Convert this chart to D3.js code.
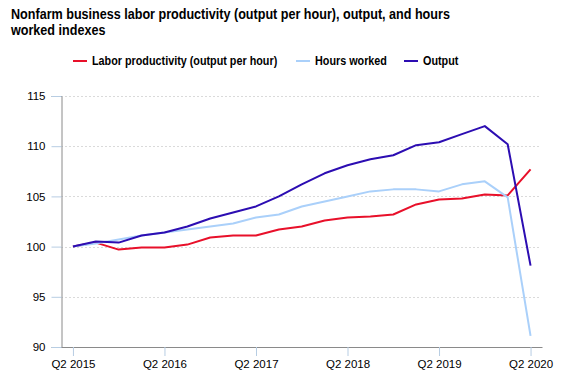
<!DOCTYPE html>
<html>
<head>
<meta charset="utf-8">
<script src="https://cdn.jsdelivr.net/npm/d3@7"></script>
<style>
  body { margin: 0; background: #fff; }
  text { font-family: "Liberation Sans", Arial, sans-serif; }
</style>
</head>
<body>
<div id="root"></div>
<script>
// Data
const quarters = [
  'Q2 2015', 'Q3 2015', 'Q4 2015', 'Q1 2016', 'Q2 2016', 'Q3 2016', 'Q4 2016',
  'Q1 2017', 'Q2 2017', 'Q3 2017', 'Q4 2017', 'Q1 2018', 'Q2 2018', 'Q3 2018',
  'Q4 2018', 'Q1 2019', 'Q2 2019', 'Q3 2019', 'Q4 2019', 'Q1 2020', 'Q2 2020',
];
const productivity = [100, 100.4, 99.7, 99.9, 99.9, 100.2, 100.9, 101.1, 101.1, 101.7, 102.0,
  102.6, 102.9, 103.0, 103.2, 104.2, 104.7, 104.8, 105.2, 105.1, 107.7];
const hoursWorked = [100, 100.3, 100.7, 101.1, 101.4, 101.7, 102.0, 102.3, 102.9, 103.2, 104.0,
  104.5, 105.0, 105.5, 105.7, 105.7, 105.5, 106.2, 106.5, 104.9, 91.1];
const output = [100, 100.5, 100.4, 101.1, 101.4, 102.0, 102.8, 103.4, 104.0, 105.0, 106.2,
  107.3, 108.1, 108.7, 109.1, 110.1, 110.4, 111.2, 112.0, 110.2, 98.1];
const xTickLabels = ['Q2 2015', 'Q2 2016', 'Q2 2017', 'Q2 2018', 'Q2 2019', 'Q2 2020'];
const yTicks = [90, 95, 100, 105, 110, 115];

const series = [
  { name: 'Labor productivity (output per hour)', values: productivity, color: '#e8102a' },
  { name: 'Hours worked', values: hoursWorked, color: '#aad0fa' },
  { name: 'Output', values: output, color: '#2c0db2' },
];

// Layout
const width = 579;
const height = 374;
const margin = { top: 96, right: 37, bottom: 27, left: 61.5 };
const squeeze = 0.9; // header text is a bit narrower than the font

const svg = d3.select('#root').append('svg').attr('width', width).attr('height', height);

// Title
const title = svg.append('g')
  .attr('transform', `translate(11, 18.7) scale(${squeeze}, 1)`)
  .append('text')
  .style('font-size', '14px')
  .style('font-weight', 'bold')
  .attr('fill', '#000');
title.append('tspan').attr('x', 0).text('Nonfarm business labor productivity (output per hour), output, and hours');
title.append('tspan').attr('x', 0).attr('dy', 16).text('worked indexes');

// Legend
const legendX = [73, 296, 404];
const legend = svg.append('g');
series.forEach((s, i) => {
  const g = legend.append('g').attr('transform', `translate(${legendX[i]}, 61)`);
  g.append('line').attr('x1', 0).attr('x2', 14).attr('y1', 0).attr('y2', 0)
    .attr('stroke', s.color).attr('stroke-width', 2);
  g.append('text')
    .attr('transform', `translate(19, 4) scale(${squeeze}, 1)`)
    .style('font-size', '12px').style('font-weight', 'bold').text(s.name);
});

// Scales
const xScale = d3.scalePoint().domain(quarters).range([margin.left, width - margin.right]).padding(0.5);
const yScale = d3.scaleLinear().domain([90, 115]).range([height - margin.bottom, margin.top]);

// Grid
svg.append('g')
  .selectAll('line')
  .data(yTicks.filter((d) => d > 90))
  .join('line')
  .attr('x1', margin.left)
  .attr('x2', width - margin.right - 2)
  .attr('y1', (d) => Math.round(yScale(d)) + 0.5)
  .attr('y2', (d) => Math.round(yScale(d)) + 0.5)
  .attr('stroke', '#b5b5b5')
  .attr('stroke-dasharray', '1,3');

// Y axis
const yAxisGroup = svg.append('g').attr('transform', `translate(${margin.left}, 0)`);
yAxisGroup.call(d3.axisLeft(yScale).tickValues(yTicks).tickSize(10).tickPadding(6));
yAxisGroup.select('.domain').attr('stroke', '#8a8a8a');
yAxisGroup.selectAll('.tick line').attr('stroke', '#b7cde3');
yAxisGroup.selectAll('.tick text').style('font-size', '11.5px').attr('fill', '#000')
  .style('font-family', '"Liberation Sans", Arial, sans-serif');

// X axis
const xAxisGroup = svg.append('g').attr('transform', `translate(0, ${height - margin.bottom})`);
xAxisGroup.call(d3.axisBottom(xScale).tickValues(xTickLabels).tickSize(9).tickSizeOuter(0).tickPadding(4));
xAxisGroup.select('.domain').attr('stroke', '#8a8a8a');
xAxisGroup.selectAll('.tick line').attr('stroke', '#b7cde3');
xAxisGroup.selectAll('.tick text').style('font-size', '11.5px').attr('fill', '#000')
  .style('font-family', '"Liberation Sans", Arial, sans-serif');

// Lines
const line = d3.line()
  .x((d, i) => xScale(quarters[i]))
  .y((d) => yScale(d));

svg.append('g')
  .selectAll('path')
  .data(series)
  .join('path')
  .attr('d', (s) => line(s.values))
  .attr('fill', 'none')
  .attr('stroke', (s) => s.color)
  .attr('stroke-width', 2)
  .attr('stroke-linejoin', 'round');
</script>
</body>
</html>
